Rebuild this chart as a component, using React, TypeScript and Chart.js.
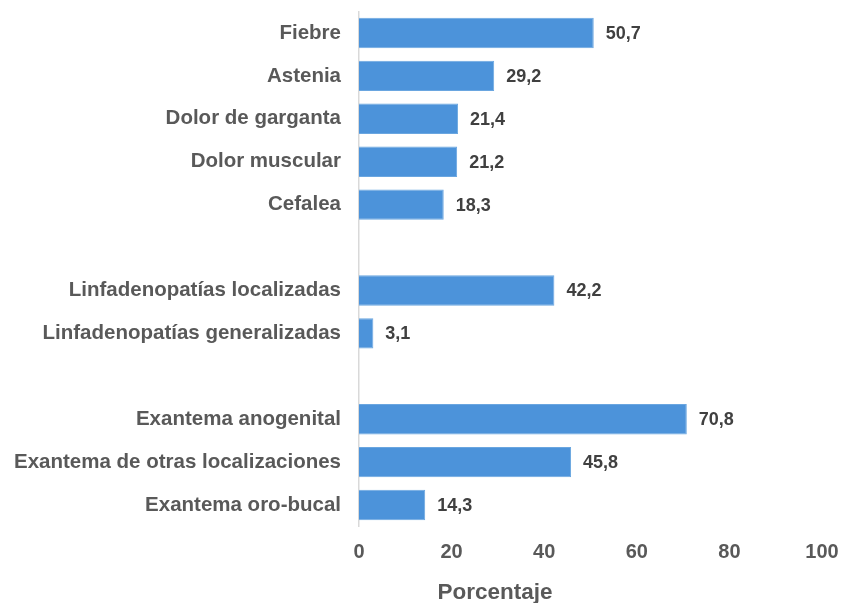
import React, { useEffect, useRef } from "react";
import { Chart, registerables } from "chart.js";

Chart.register(...registerables);

const categories: string[] = [
  "Fiebre",
  "Astenia",
  "Dolor de garganta",
  "Dolor muscular",
  "Cefalea",
  "",
  "Linfadenopatías localizadas",
  "Linfadenopatías generalizadas",
  "",
  "Exantema anogenital",
  "Exantema de otras localizaciones",
  "Exantema oro-bucal",
];
const values: (number | null)[] = [50.7, 29.2, 21.4, 21.2, 18.3, null, 42.2, 3.1, null, 70.8, 45.8, 14.3];
const axisTitle = "Porcentaje";
const xMin = 0;
const xMax = 100;
const xStep = 20;

const FONT = "'Liberation Sans', Arial, Helvetica, sans-serif";

const valueLabels = {
  id: "valueLabels",
  afterDatasetsDraw(chart: any) {
    const ctx = chart.ctx;
    const meta = chart.getDatasetMeta(0);
    ctx.save();
    ctx.font = `bold 18px ${FONT}`;
    ctx.fillStyle = "#404040";
    ctx.textAlign = "left";
    ctx.textBaseline = "middle";
    meta.data.forEach((bar: any, i: number) => {
      const v = values[i];
      if (v === null || v === undefined) return;
      ctx.fillText(v.toFixed(1).replace(".", ","), bar.x + 12, bar.y + 1);
    });
    ctx.restore();
  },
};

const axisTitlePlugin = {
  id: "axisTitlePlugin",
  afterDraw(chart: any) {
    const ctx = chart.ctx;
    ctx.save();
    ctx.font = `bold 22.5px ${FONT}`;
    ctx.fillStyle = "#595959";
    ctx.textAlign = "center";
    ctx.textBaseline = "alphabetic";
    ctx.fillText(axisTitle, chart.chartArea.left + 136, 599);
    ctx.restore();
  },
};

export default function App() {
  const ref = useRef<HTMLCanvasElement | null>(null);
  useEffect(() => {
    if (!ref.current) return;
    const chart = new Chart(ref.current, {
      type: "bar",
      data: {
        labels: categories,
        datasets: [
          {
            data: values,
            backgroundColor: "#4c93da",
            borderColor: "#6aa6e0",
            borderWidth: 1,
            categoryPercentage: 1,
            barPercentage: 0.71,
          },
        ],
      },
      options: {
        indexAxis: "y",
        animation: false,
        responsive: true,
        maintainAspectRatio: false,
        layout: { padding: { top: 11.5, left: 0, right: 0, bottom: 0 } },
        plugins: {
          legend: { display: false },
          tooltip: { enabled: false },
          title: { display: false },
        },
        scales: {
          x: {
            min: xMin,
            max: xMax,
            grid: { display: false, drawTicks: false },
            border: { display: false },
            ticks: {
              stepSize: xStep,
              padding: 14,
              color: "#595959",
              font: { family: FONT, size: 20, weight: "bold" },
              maxRotation: 0,
            },
            afterFit(scale: any) {
              scale.height = 76.5;
              scale.paddingRight = 20;
              scale.paddingLeft = 0;
            },
          },
          y: {
            grid: { display: true, color: "rgba(0,0,0,0)", drawTicks: false },
            border: { display: true, color: "#d9d9d9", width: 1.5 },
            ticks: {
              padding: 18,
              color: "#595959",
              autoSkip: false,
              font: { family: FONT, size: 20.5, weight: "bold" },
            },
            afterFit(scale: any) {
              scale.width = 359;
              scale.paddingTop = 0;
              scale.paddingBottom = 0;
            },
          },
        },
      },
      plugins: [valueLabels, axisTitlePlugin],
    });
    return () => chart.destroy();
  }, []);
  return (
    <div style={{ position: "absolute", left: 0, top: 0, width: 842, height: 603 }}>
      <canvas ref={ref} />
    </div>
  );
}
